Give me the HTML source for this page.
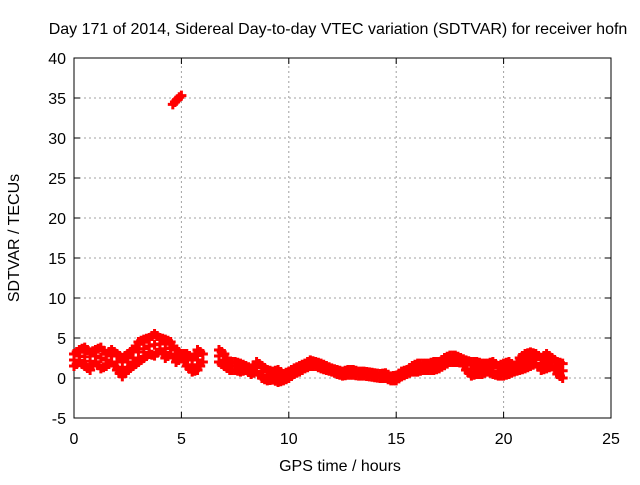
<!DOCTYPE html>
<html><head><meta charset="utf-8"><style>
body{margin:0;background:#fff}
svg text{font-family:"Liberation Sans",Arial,sans-serif;font-size:16px;fill:#000}
</style></head><body>
<svg id="chart" width="640" height="480">
<rect width="640" height="480" fill="#fff"/>
<text x="338" y="34" text-anchor="middle">Day 171 of 2014, Sidereal Day-to-day VTEC variation (SDTVAR) for receiver hofn</text>
<text x="340" y="471" text-anchor="middle">GPS time / hours</text>
<text transform="translate(19,238) rotate(-90)" text-anchor="middle">SDTVAR / TECUs</text>
<g id="grid"></g><g id="axes"></g><g id="marks"></g>
</svg>
<script>
const xTicks=[0,5,10,15,20,25];
const yTicks=[-5,0,5,10,15,20,25,30,35,40];
const times=[];for(let i=0;i<92;i++)times.push(i*0.25);
const upper=[3.0,3.5,3.8,3.2,3.5,3.8,3.0,3.5,3.0,2.5,3.0,3.5,4.5,4.8,5.0,5.5,5.0,4.8,4.5,3.5,3.0,3.0,2.5,3.5,3.0,null,null,3.5,3.0,2.0,2.0,1.8,1.5,1.2,2.0,1.5,1.0,0.8,1.0,0.5,0.8,1.2,1.5,1.8,2.2,2.0,1.8,1.5,1.2,1.0,0.8,1.0,1.0,0.8,0.8,0.7,0.6,0.5,0.6,0.2,0.3,0.8,1.0,1.5,1.8,1.8,1.8,2.0,2.0,2.5,2.8,2.8,2.5,2.2,2.0,2.0,1.8,1.8,2.0,1.5,1.8,2.0,1.5,2.5,3.0,3.2,3.0,2.5,3.0,2.5,2.0,1.8];
const lower=[1.5,2.0,1.5,1.0,2.0,1.2,1.5,2.0,1.0,0.2,1.0,1.5,2.0,2.5,3.0,2.8,3.5,2.5,3.0,2.0,2.5,1.5,0.8,1.0,2.0,null,null,2.0,1.5,1.0,1.0,0.8,1.0,0.5,0.8,0.0,-0.3,-0.2,-0.5,-0.3,0.0,0.5,0.8,1.2,1.5,1.5,1.2,1.0,0.8,0.5,0.3,0.4,0.4,0.3,0.3,0.2,0.1,0.0,0.0,-0.3,-0.3,0.2,0.5,0.8,0.8,1.0,1.0,1.0,1.2,1.6,2.0,2.0,2.0,1.0,0.3,0.5,0.5,0.8,0.5,0.3,0.3,0.5,0.8,1.0,1.2,1.5,1.8,1.0,1.2,1.5,0.5,0.0];
const outTimes=[4.6,4.7,4.8,4.9,5.0];
const outVals=[34.2,34.5,34.8,35.1,35.3];
const X0=74,X1=611,Y0=418,Y1=58;
const xs=v=>X0+(v-0)/25*(X1-X0);
const ys=v=>Y0-(v+5)/45*(Y0-Y1);
const NS="http://www.w3.org/2000/svg";
function mk(tag,attrs,parent){const e=document.createElementNS(NS,tag);for(const k in attrs)e.setAttribute(k,attrs[k]);document.getElementById(parent).appendChild(e);return e;}
xTicks.forEach(t=>{const x=xs(t);
 if(t>0&&t<25){const g=mk('line',{x1:x,y1:Y0,x2:x,y2:Y1,stroke:'#a0a0a0','stroke-dasharray':'2,3'},'grid');
 
 }
 mk('line',{x1:x,y1:Y0,x2:x,y2:Y0-6,stroke:'#000'},'axes');
 mk('line',{x1:x,y1:Y1,x2:x,y2:Y1+6,stroke:'#000'},'axes');
 const l=mk('text',{x:x,y:Y0+26,'text-anchor':'middle'},'axes');l.textContent=t;
 
 
});
yTicks.forEach(t=>{const y=ys(t);
 if(t>-5&&t<40){const g=mk('line',{x1:X0,y1:y,x2:X1,y2:y,stroke:'#a0a0a0','stroke-dasharray':'2,3'},'grid');
 
 }
 mk('line',{x1:X0,y1:y,x2:X0+6,y2:y,stroke:'#000'},'axes');
 mk('line',{x1:X1,y1:y,x2:X1-6,y2:y,stroke:'#000'},'axes');
 const l=mk('text',{x:X0-8,y:y+6,'text-anchor':'end'},'axes');l.textContent=t;
 
 
});
const fr=mk('rect',{x:X0,y:Y1,width:X1-X0,height:Y0-Y1,fill:'none',stroke:'#000'},'axes');


function plus(t,v){const x=xs(t),y=ys(v);
 const p=mk('path',{d:`M${x-5} ${y}H${x+5}M${x} ${y-5}V${y+5}`,stroke:'#f00','stroke-width':3},'marks');
 
 
}
times.forEach((t,i)=>{
 if(upper[i]!=null)plus(t,upper[i]);
 if(lower[i]!=null)plus(t,lower[i]);
 if(upper[i]!=null&&lower[i]!=null&&upper[i]-lower[i]>1.2){plus(t,(upper[i]+lower[i])/2);}
 if(i+1<times.length&&upper[i]!=null&&upper[i+1]!=null){plus(t+0.125,(upper[i]+upper[i+1])/2);plus(t+0.125,(lower[i]+lower[i+1])/2);}
});
outTimes.forEach((t,i)=>plus(t,outVals[i]));
</script>
</body></html>
